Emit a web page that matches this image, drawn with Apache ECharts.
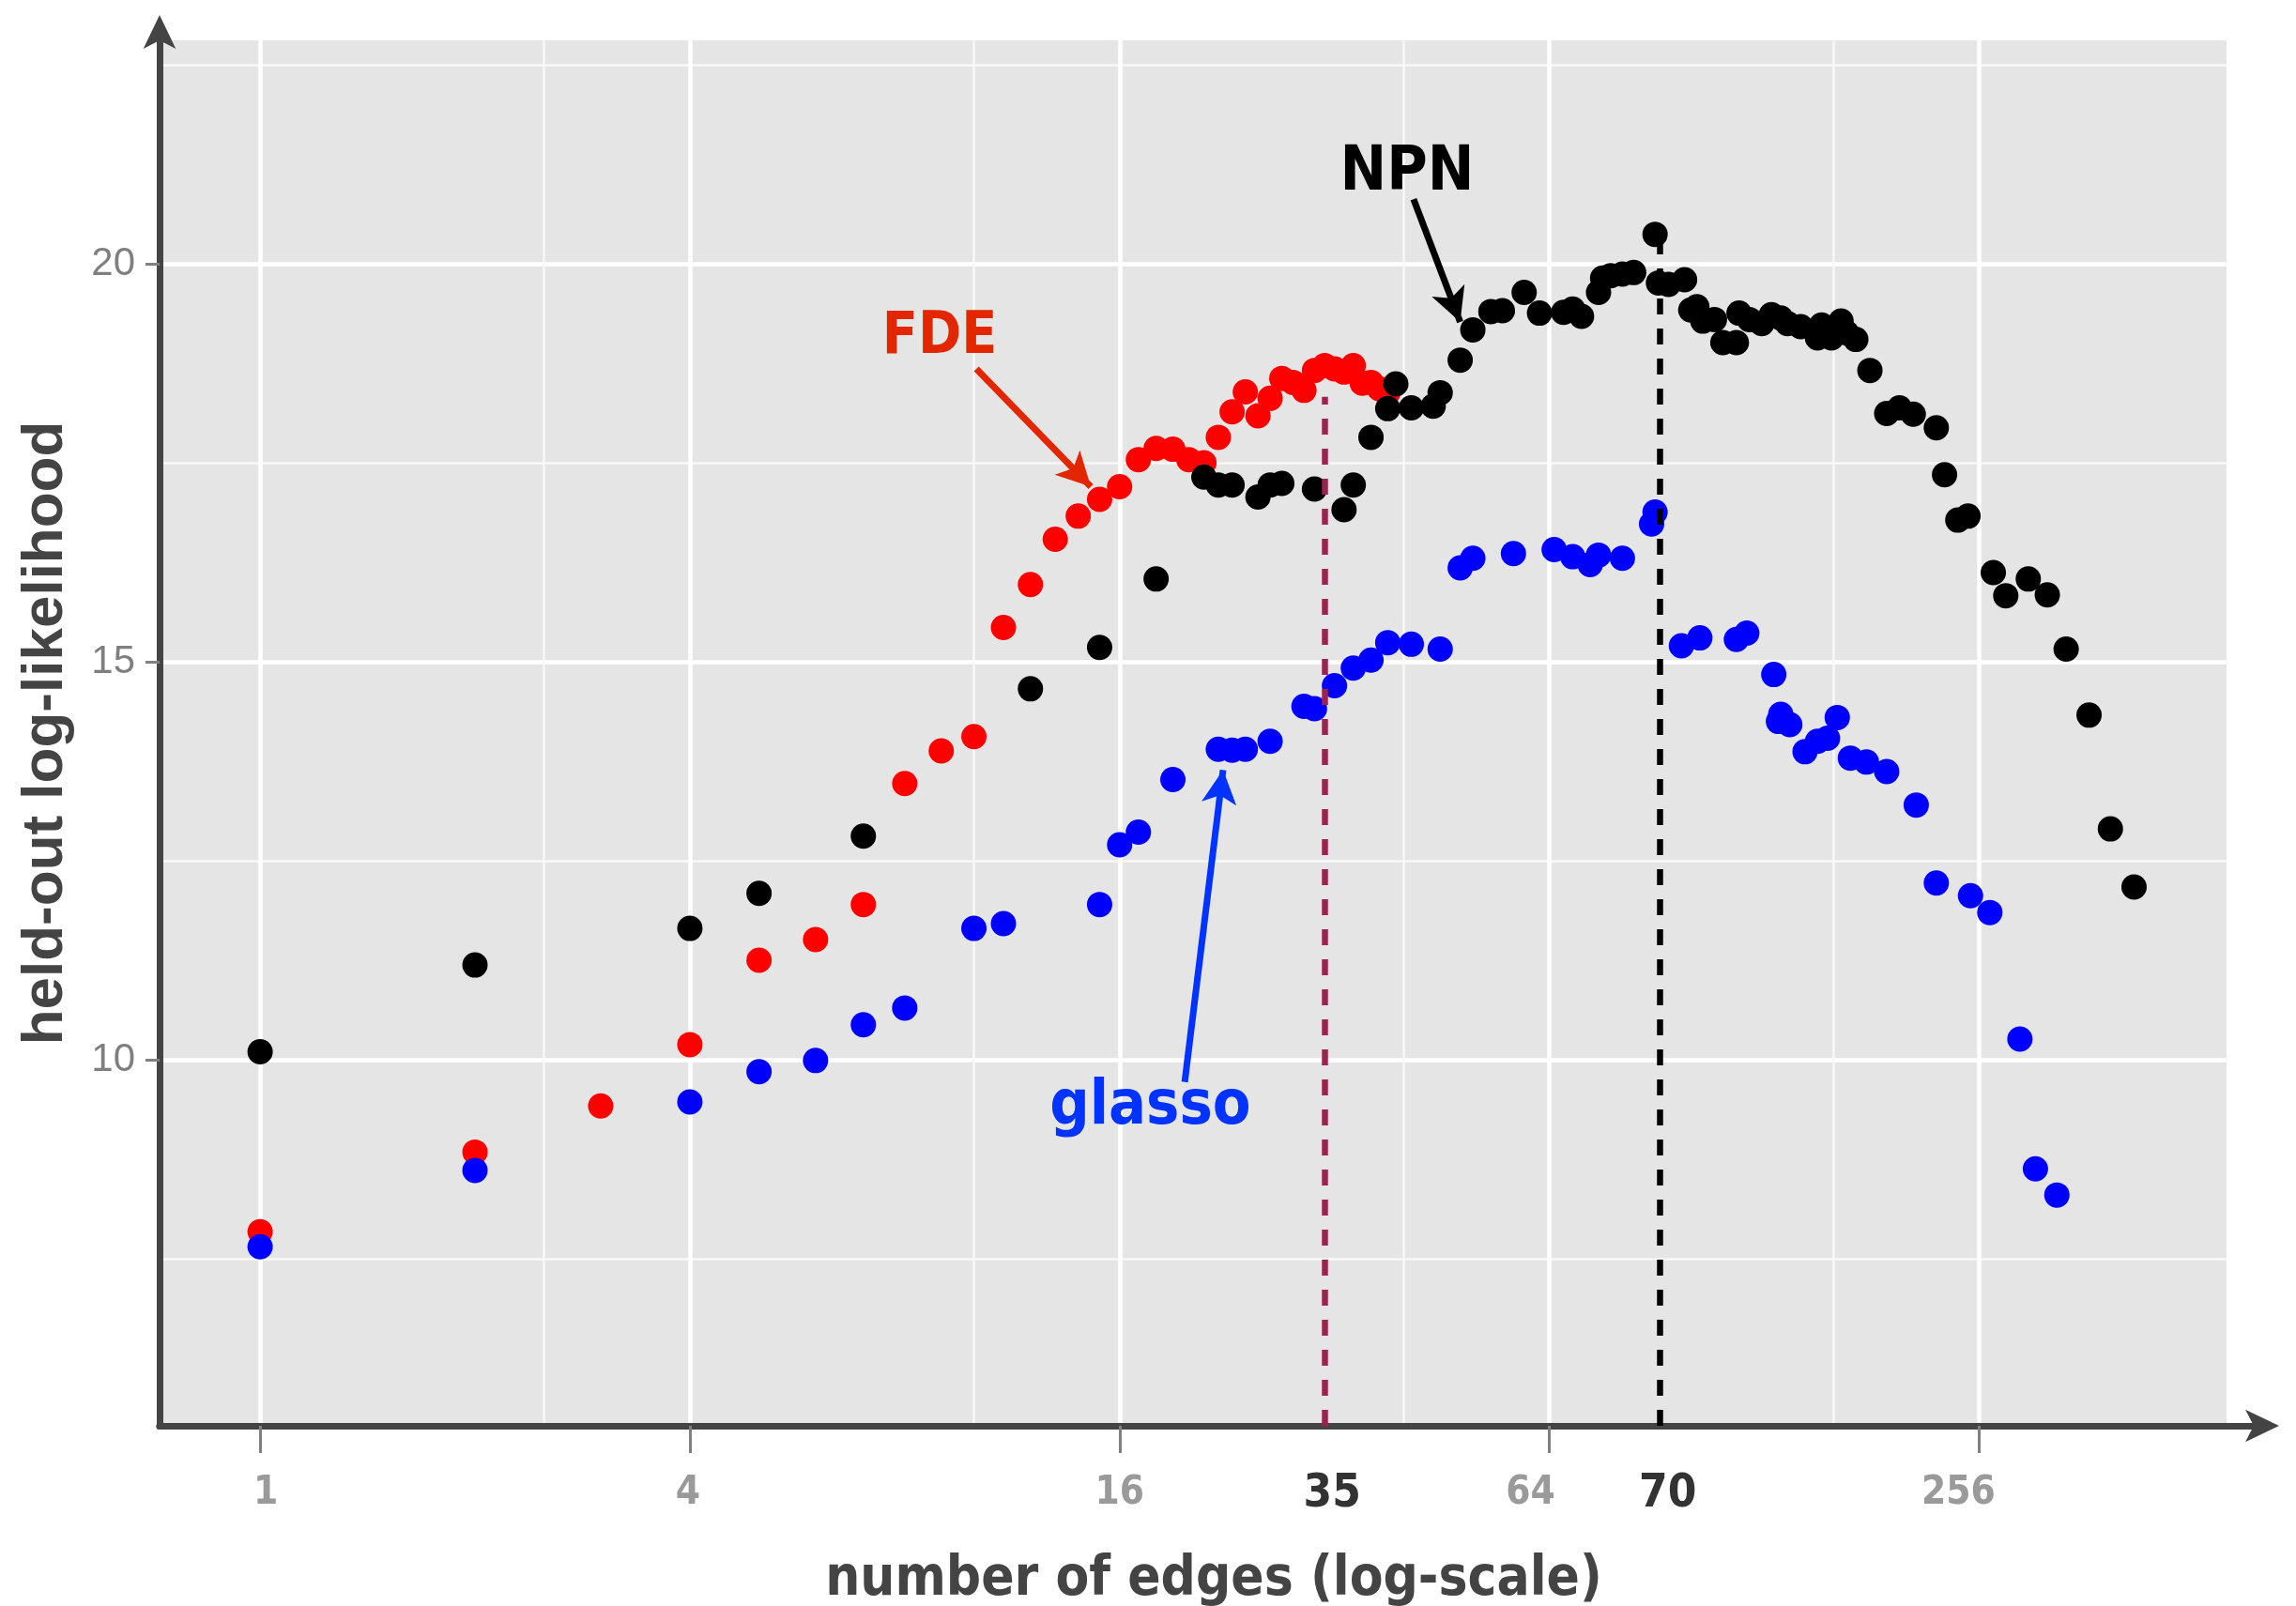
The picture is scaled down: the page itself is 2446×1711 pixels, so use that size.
<!DOCTYPE html>
<html>
<head>
<meta charset="utf-8">
<script src="https://cdn.jsdelivr.net/npm/echarts@6/dist/echarts.min.js"></script>
<style>
html,body{margin:0;padding:0;background:#fff;}
#chart{width:2446px;height:1711px;}
</style>
</head>
<body>
<div id="chart"></div>
<script>
// ---- data (number of edges, held-out log-likelihood) ----
const fdeEdges = [1,2,3,4,5,6,7,8,9,10,11,12,13,14,15,16,17,18,19,20,21,22,23,24,25,26,27,28,29,30,31,32,33,34,35,36,37,38];
const fdeLL    = [7.84,8.84,9.42,10.19,11.25,11.51,11.95,13.47,13.88,14.06,15.43,15.97,16.54,16.83,17.04,17.20,17.54,17.68,17.67,17.54,17.50,17.82,18.14,18.39,18.09,18.31,18.56,18.51,18.41,18.66,18.72,18.68,18.64,18.72,18.50,18.51,18.43,18.38];

const npnEdges = [1,2,4,5,7,12,15,18,21,22,23,25,26,27,30,33,34,36,38,39,41,44,45,48,50,53,55,59,62,67,69,71,75,76,78,81,84,90,91,94,99,101,103,105,109,112,117,118,122,127,131,135,138,144,152,154,159,164,167,172,180,190,198,207,223,229,239,247,268,279,300,319,339,365,391,422];
const npnLL    = [10.10,11.19,11.65,12.09,12.81,14.66,15.18,16.04,17.32,17.22,17.22,17.07,17.22,17.24,17.17,16.91,17.22,17.82,18.18,18.49,18.19,18.21,18.38,18.79,19.17,19.40,19.41,19.64,19.38,19.39,19.43,19.34,19.64,19.82,19.85,19.87,19.89,20.37,19.76,19.74,19.80,19.42,19.46,19.28,19.30,19.01,19.01,19.38,19.30,19.25,19.36,19.32,19.25,19.21,19.07,19.23,19.07,19.28,19.13,19.05,18.66,18.12,18.19,18.11,17.94,17.35,16.78,16.83,16.12,15.83,16.04,15.84,15.16,14.33,12.90,12.17];

const glassoEdges = [1,2,4,5,6,7,8,10,11,15,16,17,19,22,23,24,26,29,30,32,34,36,38,41,45,48,50,57,65,69,73,75,81,89,90,98,104,117,121,132,134,135,139,146,152,157,162,169,178,190,209,223,249,265,292,307,329];
const glassoLL    = [7.65,8.61,9.47,9.85,9.99,10.44,10.65,11.65,11.71,11.95,12.70,12.86,13.52,13.90,13.89,13.90,14.00,14.44,14.41,14.70,14.92,15.02,15.24,15.22,15.16,16.18,16.30,16.36,16.41,16.32,16.22,16.34,16.30,16.73,16.88,15.20,15.30,15.28,15.36,14.84,14.25,14.34,14.21,13.87,14.00,14.04,14.30,13.79,13.74,13.62,13.20,12.22,12.06,11.85,10.26,8.63,8.30];

// ---- axes ----
const xTickValues = [1, 4, 16, 64, 256];
const yTickValues = [10, 15, 20];
const xRange = [0.723, 568.7];
const yRange = [5.401, 22.807];

// ---- reference (dashed) lines ----
const refLineEdges  = [31, 91.5];
const refLineTop    = [18.33, 20.25];
const refLineLabels = ['35', '70'];

// ---- annotations ----
const annoText  = ['NPN', 'FDE', 'glasso'];
const annoPos   = [[40.44, 21.13], [8.955, 19.07], [17.66, 9.40]];
const arrowFrom = [[41.3, 20.81], [10.08, 18.68], [19.74, 9.72]];
const arrowTo   = [[48.0, 19.27], [14.58, 17.20], [22.34, 13.64]];

// ---- styling ----
const COND = '"DejaVu Sans Condensed", "DejaVu Sans", sans-serif';
const annoColors = ['#000000', '#e22600', '#0033ff'];
const annoSizes = [66, 62, 66];
const refColors = ['#9c2250', '#000000'];
// small horizontal nudges of the x tick labels, as in the reference
const xLabelShiftStyle = { 1: 'r6', 4: 'l2', 16: 'n', 64: 'l20', 256: 'l22' };

const zip = (xs, ys) => xs.map((x, i) => [x, ys[i]]);
const labelBase = { color: '#9a9a9a', fontFamily: COND, fontWeight: 'bold', fontSize: 42 };

const chart = echarts.init(document.getElementById('chart'), null, {renderer: 'canvas'});

const option = {
  animation: false,
  backgroundColor: '#ffffff',
  grid: [
    { left: 170, right: 74, top: 43, bottom: 192, show: true, backgroundColor: '#e5e5e5', borderWidth: 0,
      containLabel: false, outerBoundsMode: 'none' },
    { left: 170, right: 45, top: 43, bottom: 192, show: false, containLabel: false, outerBoundsMode: 'none' }
  ],
  xAxis: [{
    type: 'log', logBase: 4, min: xRange[0], max: xRange[1], splitNumber: 5,
    axisLine: { show: true, onZero: false, lineStyle: { color: '#444444', width: 7 } },
    axisTick: { show: true, length: 29, customValues: xTickValues, lineStyle: { color: '#808080', width: 3 } },
    axisLabel: {
      customValues: xTickValues,
      formatter: v => { const n = Math.round(v); return '{' + (xLabelShiftStyle[n] || 'n') + '|' + n + '}'; },
      ...labelBase, margin: 51,
      rich: {
        n: { ...labelBase },
        r6: { ...labelBase, padding: [0, 0, 0, 12] },
        l2: { ...labelBase, padding: [0, 4, 0, 0] },
        l20: { ...labelBase, padding: [0, 40, 0, 0] },
        l22: { ...labelBase, padding: [0, 44, 0, 0] }
      }
    },
    splitLine: { show: true, lineStyle: { color: '#ffffff', width: 4.5 } },
    minorTick: { show: false, splitNumber: 2 },
    minorSplitLine: { show: true, lineStyle: { color: '#f8f8f8', width: 2.5 } },
    name: 'number of edges (log-scale)', nameLocation: 'middle', nameGap: 136,
    nameTextStyle: { color: '#444444', fontFamily: COND, fontWeight: 'bold', fontSize: 58, padding: [0, 0, 0, 44] }
  }, {
    gridIndex: 1, type: 'value', min: 0, max: 1,
    axisLine: { show: true, onZero: false, lineStyle: { color: '#444444', width: 7 },
      symbol: ['none', 'arrow'], symbolSize: [26, 36], symbolOffset: [0, 27] },
    axisTick: { show: false }, axisLabel: { show: false }, splitLine: { show: false }
  }],
  yAxis: [{
    type: 'value', min: yRange[0], max: yRange[1], splitNumber: 3,
    axisLine: { show: true, onZero: false, lineStyle: { color: '#444444', width: 7 },
      symbol: ['none', 'arrow'], symbolSize: [26, 36], symbolOffset: [0, 27] },
    axisTick: { show: true, length: 15, customValues: yTickValues, lineStyle: { color: '#808080', width: 3 } },
    axisLabel: { customValues: yTickValues, formatter: v => String(v),
      color: '#7f7f7f', fontFamily: '"Liberation Sans", Arial, sans-serif', fontSize: 42, margin: 26 },
    splitLine: { show: true, lineStyle: { color: '#ffffff', width: 4.5 } },
    minorTick: { show: false, splitNumber: 2 },
    minorSplitLine: { show: true, lineStyle: { color: '#f8f8f8', width: 2.5 } },
    name: 'held-out log-likelihood', nameLocation: 'middle', nameGap: 90,
    nameTextStyle: { color: '#444444', fontFamily: '"Liberation Sans", Arial, sans-serif', fontWeight: 'bold', fontSize: 62 }
  }, {
    gridIndex: 1, type: 'value', min: 0, max: 1, show: false
  }],
  series: [
    { name: 'FDE', type: 'scatter', data: zip(fdeEdges, fdeLL), symbolSize: 27, silent: true,
      itemStyle: { color: '#ff0000', opacity: 1 } },
    { name: 'NPN', type: 'scatter', data: zip(npnEdges, npnLL), symbolSize: 27, silent: true,
      itemStyle: { color: '#000000', opacity: 1 } },
    { name: 'glasso', type: 'scatter', data: zip(glassoEdges, glassoLL), symbolSize: 27, silent: true,
      itemStyle: { color: '#0000ff', opacity: 1 } },
    { name: 'annotations', type: 'scatter', data: [], silent: true,
      markLine: {
        silent: true, symbol: ['none', 'none'], precision: 4,
        data: refLineEdges.map((e, i) => [
          { coord: [e, yRange[0]], name: refLineLabels[i],
            lineStyle: { color: refColors[i], width: 6.5, type: [17, 15] },
            label: { show: true, position: 'start', formatter: '{b}', distance: 49, offset: [8, 0],
              color: '#333333', fontFamily: COND, fontWeight: 'bold', fontSize: 49 } },
          { coord: [e, refLineTop[i]] }
        ]).concat(arrowFrom.map((f, i) => [
          { coord: f, symbol: 'none',
            lineStyle: { color: annoColors[i], width: 7, type: 'solid' },
            itemStyle: { color: annoColors[i] },
            label: { show: false } },
          { coord: arrowTo[i], symbol: 'arrow', symbolSize: [28, 36], itemStyle: { color: annoColors[i] } }
        ]))
      },
      markPoint: {
        silent: true, symbol: 'rect', symbolSize: 1,
        itemStyle: { color: 'rgba(0,0,0,0)' },
        data: annoText.map((t, i) => ({
          coord: annoPos[i], name: t,
          label: { show: true, position: 'inside', formatter: '{b}', color: annoColors[i],
            fontFamily: COND, fontWeight: 'bold', fontSize: annoSizes[i] }
        }))
      }
    }
  ]
};
chart.setOption(option);
</script>
</body>
</html>
